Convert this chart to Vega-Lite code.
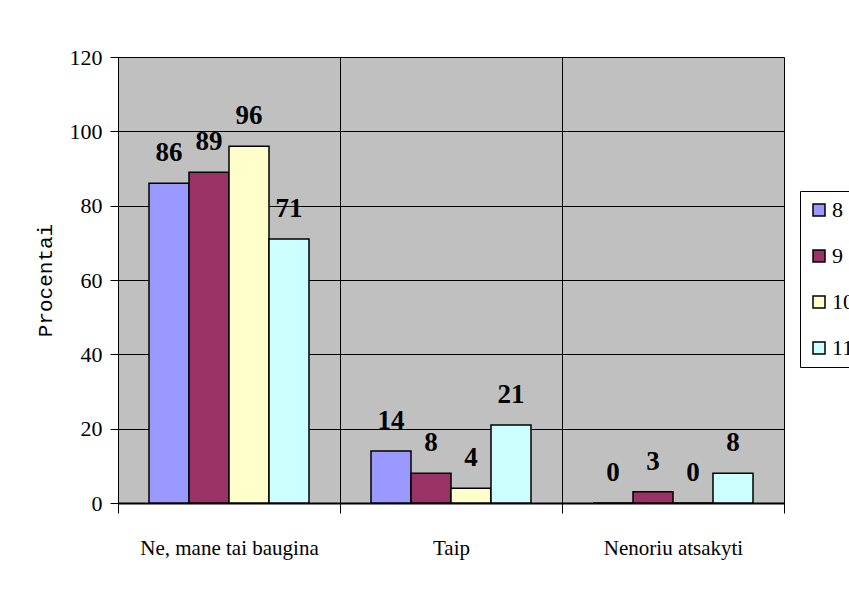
{
  "$schema": "https://vega.github.io/schema/vega-lite/v6.json",
  "width": 666,
  "height": 446,
  "autosize": {"type": "none"},
  "padding": {"left": 118, "top": 57, "right": 65, "bottom": 91},
  "background": "white",
  "data": {
    "values": [
      {"cat": "Ne, mane tai baugina", "grade": "8", "value": 86},
      {"cat": "Ne, mane tai baugina", "grade": "9", "value": 89},
      {"cat": "Ne, mane tai baugina", "grade": "10", "value": 96},
      {"cat": "Ne, mane tai baugina", "grade": "11", "value": 71},
      {"cat": "Taip", "grade": "8", "value": 14},
      {"cat": "Taip", "grade": "9", "value": 8},
      {"cat": "Taip", "grade": "10", "value": 4},
      {"cat": "Taip", "grade": "11", "value": 21},
      {"cat": "Nenoriu atsakyti", "grade": "8", "value": 0},
      {"cat": "Nenoriu atsakyti", "grade": "9", "value": 3},
      {"cat": "Nenoriu atsakyti", "grade": "10", "value": 0},
      {"cat": "Nenoriu atsakyti", "grade": "11", "value": 8}
    ]
  },
  "encoding": {
    "x": {
      "field": "cat",
      "type": "nominal",
      "sort": ["Ne, mane tai baugina", "Taip", "Nenoriu atsakyti"],
      "scale": {"paddingInner": 0, "paddingOuter": 0},
      "axis": {
        "title": null,
        "labelAngle": 0,
        "labelFont": "Liberation Serif",
        "labelFontSize": 21,
        "labelColor": "black",
        "labelPadding": 24,
        "tickBand": "extent",
        "tickSize": 10,
        "tickColor": "black",
        "domainColor": "black",
        "domainWidth": 2,
        "grid": true,
        "gridColor": "#000000",
        "gridWidth": 1
      }
    },
    "xOffset": {
      "field": "grade",
      "type": "nominal",
      "sort": ["8", "9", "10", "11"],
      "scale": {"paddingInner": 0, "paddingOuter": 0.775}
    },
    "y": {
      "field": "value",
      "type": "quantitative",
      "scale": {"domain": [0, 120], "nice": false},
      "axis": {
        "title": "Procentai",
        "titleFont": "Liberation Mono",
        "titleFontSize": 21,
        "titleFontWeight": "normal",
        "titleColor": "black",
        "titlePadding": 14,
        "values": [0, 20, 40, 60, 80, 100, 120],
        "labelFont": "Liberation Serif",
        "labelFontSize": 22,
        "labelColor": "black",
        "labelPadding": 8,
        "tickSize": 8,
        "tickColor": "black",
        "domainColor": "black",
        "grid": true,
        "gridColor": "#000000",
        "gridWidth": 1
      }
    }
  },
  "layer": [
    {
      "mark": {"type": "bar", "stroke": "black", "strokeWidth": 1.5},
      "encoding": {
        "color": {
          "field": "grade",
          "type": "nominal",
          "sort": ["8", "9", "10", "11"],
          "scale": {"domain": ["8", "9", "10", "11"], "range": ["#9999FF", "#993366", "#FFFFCC", "#CCFFFF"]},
          "legend": {
            "title": null,
            "orient": "none",
            "legendX": 682,
            "legendY": 134,
            "symbolType": "square",
            "symbolSize": 144,
            "symbolStrokeColor": "black",
            "symbolStrokeWidth": 1.5,
            "labelFont": "Liberation Serif",
            "labelFontSize": 22,
            "labelColor": "black",
            "labelOffset": 2,
            "rowPadding": 24,
            "padding": 8,
            "strokeColor": "black",
            "fillColor": "white"
          }
        }
      }
    },
    {
      "mark": {"type": "text", "baseline": "alphabetic", "dy": -22, "font": "Liberation Serif", "fontSize": 27, "fontWeight": "bold", "color": "black"},
      "encoding": {
        "text": {"field": "value", "type": "quantitative"}
      }
    }
  ],
  "config": {
    "font": "Liberation Serif",
    "view": {"fill": "#C0C0C0", "stroke": "#808080", "strokeWidth": 1}
  }
}
